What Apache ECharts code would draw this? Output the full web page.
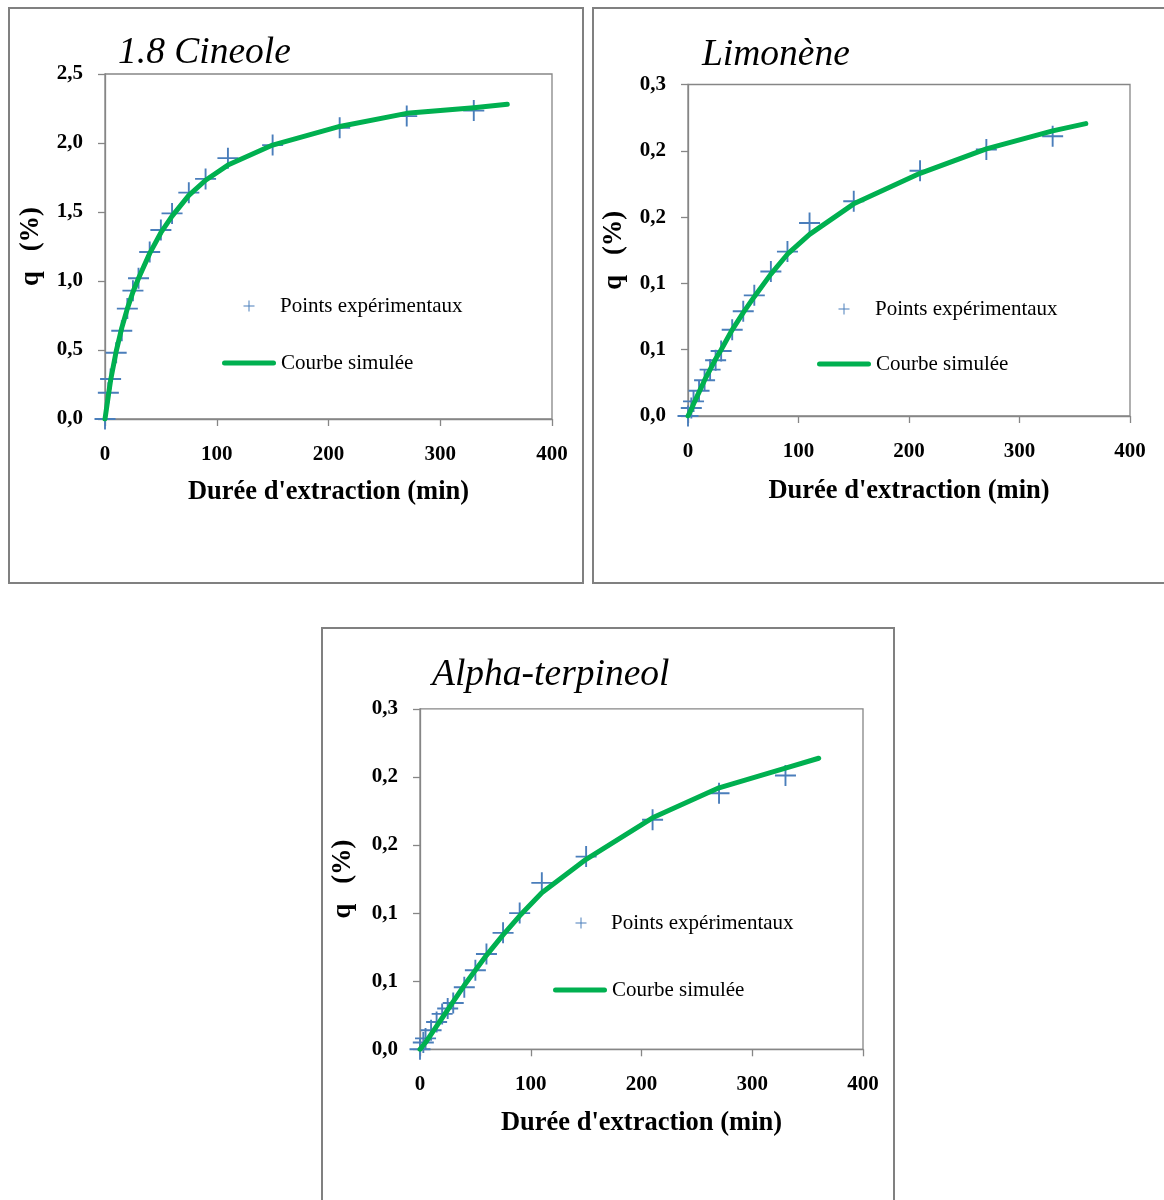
<!DOCTYPE html>
<html>
<head>
<meta charset="utf-8">
<script src="https://cdn.jsdelivr.net/npm/echarts@6/dist/echarts.min.js"></script>
<style>
  html, body { margin: 0; padding: 0; width: 1164px; height: 1200px; overflow: hidden; background: #fff; }
  .frame { position: absolute; border: 2px solid #808080; box-sizing: border-box; }
  .chart { position: absolute; }
</style>
</head>
<body>
<div class="frame" style="left:8px;top:7px;width:576px;height:577px"></div>
<div class="chart" id="c1" style="left:8px;top:7px;width:576px;height:577px"></div>

<div class="frame" style="left:592px;top:7px;width:620px;height:577px"></div>
<div class="chart" id="c2" style="left:592px;top:7px;width:572px;height:577px"></div>

<div class="frame" style="left:321px;top:627px;width:574px;height:620px"></div>
<div class="chart" id="c3" style="left:320px;top:628px;width:575px;height:572px"></div>

<script>
// Extraction times (min) of the measured points
const expTimes = [0, 3, 5, 10, 15, 20, 25, 30, 40, 50, 60, 75, 90, 110, 150, 210, 270, 330];
// Times at which the simulated curve is evaluated
const simTimes = [0, 3, 5, 10, 15, 20, 25, 30, 40, 50, 60, 75, 90, 110, 150, 210, 270, 330, 360];

// 1.8 Cineole yield q (%)
const cineoleExp = [0, 0.19, 0.29, 0.48, 0.64, 0.80, 0.93, 1.02, 1.21, 1.37, 1.49, 1.64, 1.74, 1.89, 1.985, 2.11, 2.195, 2.235];
const cineoleSim = [0, 0.17, 0.28, 0.49, 0.66, 0.80, 0.92, 1.02, 1.20, 1.35, 1.47, 1.62, 1.73, 1.84, 1.985, 2.12, 2.215, 2.255, 2.28];

// Limonène yield q (%)
const limoneneExp = [0, 0.006, 0.011, 0.019, 0.027, 0.035, 0.042, 0.049, 0.065, 0.079, 0.091, 0.109, 0.124, 0.1455, 0.162, 0.185, 0.201, 0.211];
const limoneneSim = [0, 0.005, 0.009, 0.018, 0.027, 0.035, 0.043, 0.050, 0.065, 0.078, 0.090, 0.107, 0.122, 0.137, 0.160, 0.183, 0.2015, 0.215, 0.2205];

// Alpha-terpineol yield q (%)
const alphaExp = [0, 0.005, 0.008, 0.014, 0.020, 0.026, 0.030, 0.034, 0.0456, 0.058, 0.070, 0.0855, 0.100, 0.1222, 0.1415, 0.1685, 0.188, 0.201];
const alphaSim = [0, 0.003, 0.005, 0.011, 0.017, 0.023, 0.029, 0.035, 0.047, 0.058, 0.069, 0.084, 0.098, 0.115, 0.1395, 0.170, 0.192, 0.2065, 0.2137];

// Tick labels
const xTickLabels = ['0', '100', '200', '300', '400'];
const cineoleTickLabels = ['0,0', '0,5', '1,0', '1,5', '2,0', '2,5'];
const smallTickLabels = ['0,0', '0,1', '0,1', '0,2', '0,2', '0,3'];

const serif = 'Liberation Serif, Times New Roman, serif';
const axisGrey = '#868686';
const plusPath = 'path://M0,9.1H20V10.9H0Z M9.1,0H10.9V20H9.1Z';
const pillPath = 'path://M2.5,0H51.5A2.5,2.5,0,0,1,51.5,5H2.5A2.5,2.5,0,0,1,2.5,0Z';

function pairs(xs, ys) { return xs.map((x, i) => [x, ys[i]]); }

function panel(id, p) {
  const chart = echarts.init(document.getElementById(id), null, { renderer: 'canvas' });
  const legendText = { fontFamily: serif, fontSize: 21, color: '#000' };
  chart.setOption({
    animation: false,
    backgroundColor: 'transparent',
    title: {
      text: p.title, left: p.titleLeft, top: p.titleTop, padding: 0,
      textStyle: { fontFamily: serif, fontStyle: 'italic', fontWeight: 'normal', fontSize: 37.5, color: '#000' }
    },
    grid: {
      left: p.grid[0], top: p.grid[1], width: p.grid[2], height: p.grid[3],
      show: true, borderColor: axisGrey, borderWidth: 1.3, backgroundColor: 'transparent'
    },
    legend: [
      {
        data: [{ name: 'Points expérimentaux', icon: plusPath }],
        left: p.plusX - 5.5, top: p.legendY[0] - 10.5, padding: 0,
        itemWidth: 11, itemHeight: 11, selectedMode: false,
        textStyle: Object.assign({ padding: [0, 0, 0, p.plusGap - 10.5] }, legendText)
      },
      {
        data: [{ name: 'Courbe simulée', icon: pillPath, itemStyle: { color: '#00b050' } }],
        left: p.lineX, top: p.legendY[1] - 10.5, padding: 0,
        itemWidth: 54, itemHeight: 5, selectedMode: false,
        textStyle: legendText
      }
    ],
    xAxis: {
      type: 'value', min: 0, max: 400, interval: 100,
      name: "Durée d'extraction (min)", nameLocation: 'middle', nameGap: p.xNameGap,
      nameTextStyle: { fontFamily: serif, fontWeight: 'bold', fontSize: 26.5, color: '#000' },
      axisLine: { show: true, lineStyle: { color: axisGrey, width: 1.3 } },
      axisTick: { show: true, inside: false, length: 7, lineStyle: { color: axisGrey, width: 1.3 } },
      axisLabel: {
        margin: 25, fontFamily: serif, fontWeight: 'bold', fontSize: 21, color: '#000',
        formatter: v => xTickLabels[Math.round(v / 100)]
      },
      splitLine: { show: false }
    },
    yAxis: {
      type: 'value', min: 0, max: p.yMax, interval: p.yStep,
      name: 'q   (%)', nameLocation: 'middle', nameGap: p.yNameGap,
      nameTextStyle: { fontFamily: serif, fontWeight: 'bold', fontSize: 26.5, color: '#000' },
      axisLine: { show: true, lineStyle: { color: axisGrey, width: 1.3 } },
      axisTick: { show: true, inside: false, length: 7, lineStyle: { color: axisGrey, width: 1.3 } },
      axisLabel: {
        margin: 22, fontFamily: serif, fontWeight: 'bold', fontSize: 21, color: '#000',
        formatter: v => p.yLabels[Math.round(v / p.yStep)]
      },
      splitLine: { show: false }
    },
    series: [
      {
        name: 'Courbe simulée', type: 'line', data: pairs(simTimes, p.sim),
        symbol: 'none', smooth: false,
        lineStyle: { color: '#00b050', width: 5, cap: 'round', join: 'round' },
        itemStyle: { color: '#00b050' }
      },
      {
        name: 'Points expérimentaux', type: 'scatter', data: pairs(expTimes, p.exp),
        symbol: plusPath, symbolSize: 21,
        itemStyle: { color: '#4a7ebb', opacity: 1 }
      }
    ]
  });
}

panel('c1', {
  title: '1.8 Cineole', titleLeft: 110, titleTop: 27,
  grid: [97, 67, 447, 345],
  yMax: 2.5, yStep: 0.5, yLabels: cineoleTickLabels,
  exp: cineoleExp, sim: cineoleSim,
  plusX: 241, plusGap: 31, lineX: 214, legendY: [299, 356],
  xNameGap: 60, yNameGap: 60
});

panel('c2', {
  title: 'Limonène', titleLeft: 110, titleTop: 29,
  grid: [96, 77.5, 442, 331.5],
  yMax: 0.25, yStep: 0.05, yLabels: smallTickLabels,
  exp: limoneneExp, sim: limoneneSim,
  plusX: 252, plusGap: 31, lineX: 225, legendY: [302, 357],
  xNameGap: 62, yNameGap: 60
});

panel('c3', {
  title: 'Alpha-terpineol', titleLeft: 112, titleTop: 28,
  grid: [100, 80.8, 443, 340.5],
  yMax: 0.25, yStep: 0.05, yLabels: smallTickLabels,
  exp: alphaExp, sim: alphaSim,
  plusX: 261, plusGap: 30, lineX: 233, legendY: [295, 362],
  xNameGap: 60, yNameGap: 63
});
</script>
</body>
</html>
